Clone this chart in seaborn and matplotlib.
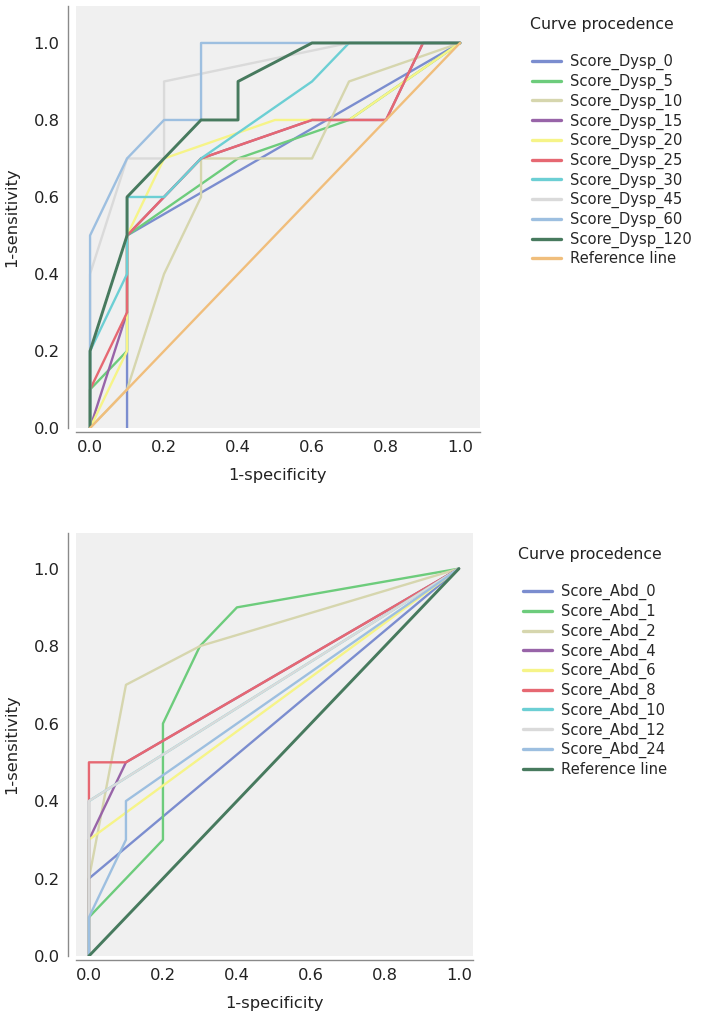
import pandas as pd
import matplotlib
matplotlib.use('Agg')
import matplotlib.pyplot as plt
import seaborn as sns

# ROC curve points: dyspnea scores (top panel)
dysp_names = ['Score_Dysp_0', 'Score_Dysp_5', 'Score_Dysp_10', 'Score_Dysp_15',
              'Score_Dysp_20', 'Score_Dysp_25', 'Score_Dysp_30', 'Score_Dysp_45',
              'Score_Dysp_60', 'Score_Dysp_120', 'Reference line']
dysp_0_x = [0.1, 0.1, 1.0]
dysp_0_y = [0.0, 0.5, 1.0]
dysp_5_x = [0.0, 0.0, 0.1, 0.1, 0.4, 0.7, 1.0]
dysp_5_y = [0.0, 0.1, 0.2, 0.5, 0.7, 0.8, 1.0]
dysp_10_x = [0.0, 0.1, 0.2, 0.3, 0.3, 0.6, 0.7, 1.0]
dysp_10_y = [0.0, 0.1, 0.4, 0.6, 0.7, 0.7, 0.9, 1.0]
dysp_15_x = [0.0, 0.1, 0.1, 0.2, 0.3, 0.6, 0.8, 0.9, 1.0]
dysp_15_y = [0.0, 0.3, 0.5, 0.6, 0.7, 0.8, 0.8, 1.0, 1.0]
dysp_20_x = [0.0, 0.1, 0.1, 0.2, 0.5, 0.7, 1.0]
dysp_20_y = [0.0, 0.2, 0.5, 0.7, 0.8, 0.8, 1.0]
dysp_25_x = [0.0, 0.0, 0.1, 0.1, 0.1, 0.2, 0.3, 0.6, 0.8, 0.9, 1.0]
dysp_25_y = [0.0, 0.1, 0.3, 0.4, 0.5, 0.6, 0.7, 0.8, 0.8, 1.0, 1.0]
dysp_30_x = [0.0, 0.0, 0.1, 0.1, 0.2, 0.3, 0.6, 0.7, 1.0]
dysp_30_y = [0.0, 0.2, 0.4, 0.6, 0.6, 0.7, 0.9, 1.0, 1.0]
dysp_45_x = [0.0, 0.0, 0.1, 0.2, 0.2, 0.7, 1.0]
dysp_45_y = [0.0, 0.4, 0.7, 0.7, 0.9, 1.0, 1.0]
dysp_60_x = [0.0, 0.0, 0.1, 0.2, 0.3, 0.3, 1.0]
dysp_60_y = [0.0, 0.5, 0.7, 0.8, 0.8, 1.0, 1.0]
dysp_120_x = [0.0, 0.0, 0.1, 0.1, 0.2, 0.3, 0.4, 0.4, 0.6, 1.0]
dysp_120_y = [0.0, 0.2, 0.5, 0.6, 0.7, 0.8, 0.8, 0.9, 1.0, 1.0]
dysp_ref_x = [0.0, 1.0]
dysp_ref_y = [0.0, 1.0]

# abdominal pain scores (bottom panel)
abd_names = ['Score_Abd_0', 'Score_Abd_1', 'Score_Abd_2', 'Score_Abd_4',
             'Score_Abd_6', 'Score_Abd_8', 'Score_Abd_10', 'Score_Abd_12',
             'Score_Abd_24', 'Reference line']
abd_0_x = [0.0, 0.0, 1.0]
abd_0_y = [0.0, 0.2, 1.0]
abd_1_x = [0.0, 0.0, 0.2, 0.2, 0.3, 0.4, 1.0]
abd_1_y = [0.0, 0.1, 0.3, 0.6, 0.8, 0.9, 1.0]
abd_2_x = [0.0, 0.0, 0.1, 0.3, 1.0]
abd_2_y = [0.0, 0.2, 0.7, 0.8, 1.0]
abd_4_x = [0.0, 0.0, 0.1, 1.0]
abd_4_y = [0.0, 0.3, 0.5, 1.0]
abd_6_x = [0.0, 0.0, 1.0]
abd_6_y = [0.0, 0.3, 1.0]
abd_8_x = [0.0, 0.0, 0.0, 0.1, 1.0]
abd_8_y = [0.0, 0.4, 0.5, 0.5, 1.0]
abd_10_x = [0.0, 0.0, 1.0]
abd_10_y = [0.0, 0.4, 1.0]
abd_12_x = [0.0, 0.0, 1.0]
abd_12_y = [0.0, 0.4, 1.0]
abd_24_x = [0.0, 0.0, 0.1, 0.1, 1.0]
abd_24_y = [0.0, 0.1, 0.3, 0.4, 1.0]
abd_ref_x = [0.0, 1.0]
abd_ref_y = [0.0, 1.0]

dysp_colors = ['#7b8dcf', '#6dcc7c', '#d6d6ae', '#9864a8', '#f6f488', '#e66872',
               '#6ccfd4', '#dadada', '#9dbfe0', '#477a5e', '#f0be7c']
abd_colors = ['#7b8dcf', '#6dcc7c', '#d6d6ae', '#9864a8', '#f6f488', '#e66872',
              '#6ccfd4', '#dadada', '#9dbfe0', '#477a5e']

dysp_xs = [dysp_0_x, dysp_5_x, dysp_10_x, dysp_15_x, dysp_20_x, dysp_25_x,
           dysp_30_x, dysp_45_x, dysp_60_x, dysp_120_x, dysp_ref_x]
dysp_ys = [dysp_0_y, dysp_5_y, dysp_10_y, dysp_15_y, dysp_20_y, dysp_25_y,
           dysp_30_y, dysp_45_y, dysp_60_y, dysp_120_y, dysp_ref_y]
abd_xs = [abd_0_x, abd_1_x, abd_2_x, abd_4_x, abd_6_x, abd_8_x, abd_10_x,
          abd_12_x, abd_24_x, abd_ref_x]
abd_ys = [abd_0_y, abd_1_y, abd_2_y, abd_4_y, abd_6_y, abd_8_y, abd_10_y,
          abd_12_y, abd_24_y, abd_ref_y]


def long_table(names, xs, ys):
    rows = []
    for name, x, y in zip(names, xs, ys):
        for i, (a, b) in enumerate(zip(x, y)):
            rows.append({'curve': name, 'order': i, 'fpr': a, 'tpr': b})
    return pd.DataFrame(rows)


sns.set_style('white')
plt.rcParams['font.family'] = ['DejaVu Sans']

fig = plt.figure(figsize=(7.16, 10.18), dpi=100)
ax_top = fig.add_axes([76 / 716, 1 - 428 / 1018, 404 / 716, 422 / 1018])
ax_bot = fig.add_axes([76 / 716, 1 - 956 / 1018, 397 / 716, 423 / 1018])


def roc_panel(ax, names, xs, ys, colors, thick, xlim, ylim, leg_x, leg_y, title_x, title_y):
    df = long_table(names, xs, ys)
    sns.lineplot(data=df, x='fpr', y='tpr', hue='curve', hue_order=names,
                 palette=colors, sort=False, estimator=None, units='curve',
                 linewidth=1.7, ax=ax, legend=False)
    for line, name in zip(ax.lines, names):
        line.set_label(name)
        if name == thick:
            line.set_linewidth(2.1)
    ax.set_facecolor('#f0f0f0')
    ax.set_xlim(*xlim)
    ax.set_ylim(*ylim)
    ax.set_xticks([0.0, 0.2, 0.4, 0.6, 0.8, 1.0])
    ax.set_yticks([0.0, 0.2, 0.4, 0.6, 0.8, 1.0])
    ax.xaxis.set_major_formatter(plt.FormatStrFormatter('%.1f'))
    ax.yaxis.set_major_formatter(plt.FormatStrFormatter('%.1f'))
    for side in ['top', 'right']:
        ax.spines[side].set_visible(False)
    ax.spines['left'].set_position(('outward', 5.8))
    ax.spines['bottom'].set_position(('outward', 2.9))
    for side in ['left', 'bottom']:
        ax.spines[side].set_color('#8a8a8a')
        ax.spines[side].set_linewidth(1.0)
    ax.tick_params(direction='in', length=6, width=1.0, color='#8a8a8a',
                   labelsize=11.8, labelcolor='#222222', pad=6)
    ax.set_xlabel('1-specificity', fontsize=11.8, color='#222222', labelpad=9)
    ax.set_ylabel('1-sensitivity', fontsize=11.8, color='#222222', labelpad=10)
    handles = [l for l in ax.lines]
    leg = ax.legend(handles=handles, labels=names, loc='upper left',
                    bbox_to_anchor=(leg_x, leg_y), frameon=False, fontsize=10.6,
                    handlelength=2.0, handletextpad=0.6, labelspacing=0.24,
                    borderaxespad=0, borderpad=0)
    for h in leg.legend_handles:
        h.set_linewidth(2.4)
    ax.text(title_x, title_y, 'Curve procedence', transform=ax.transAxes,
            fontsize=11.3, color='#222222', ha='left', va='center')


roc_panel(ax_top, dysp_names, dysp_xs, dysp_ys, dysp_colors, 'Score_Dysp_120',
          (-0.038, 1.054), (0.0, 1.096), 1.128, 0.886, 1.123, 0.955)
roc_panel(ax_bot, abd_names, abd_xs, abd_ys, abd_colors, 'Reference line',
          (-0.035, 1.038), (0.0, 1.092), 1.125, 0.879, 1.113, 0.948)

fig.savefig('out.png', dpi=100)
